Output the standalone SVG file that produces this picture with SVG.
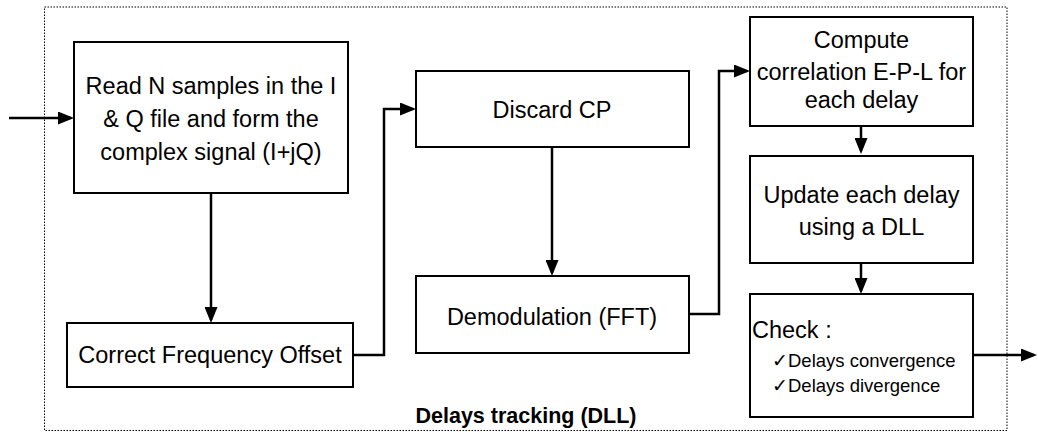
<svg xmlns="http://www.w3.org/2000/svg" width="1038" height="432" viewBox="0 0 1038 432">
<style>
.box{fill:#fff;stroke:#000;stroke-width:2}
.t{font-family:"Liberation Sans",Arial,sans-serif;font-size:23.5px;fill:#000;text-anchor:middle}
.s{font-family:"Liberation Sans",Arial,sans-serif;font-size:18.5px;fill:#000}
.b{font-family:"Liberation Sans",Arial,sans-serif;font-size:21.5px;font-weight:bold;fill:#000;text-anchor:middle}
.c{fill:none;stroke:#000;stroke-width:2.5;marker-end:url(#ah)}
</style>
<defs>
<marker id="ah" viewBox="0 0 16 13" refX="13" refY="6.5" markerWidth="16" markerHeight="13" markerUnits="userSpaceOnUse" orient="auto">
<path d="M0,0 L16,6.5 L0,13 z" fill="#000"/>
</marker>
</defs>
<rect width="1038" height="432" fill="#fff"/>
<g id="frame">
<rect x="44.5" y="7" width="962.5" height="423.5" fill="none" stroke="#000" stroke-width="1" stroke-dasharray="1.5,1.5"/>
<text class="b" x="526" y="423">Delays tracking (DLL)</text>
</g>
<g id="connectors">
<path class="c" d="M9,118 H71"/>
<path class="c" d="M211,193 V320"/>
<path class="c" d="M353,355 H384 V109 H413"/>
<path class="c" d="M552,147 V273"/>
<path class="c" d="M689,314 H719 V71 H747"/>
<path class="c" d="M861,126 V151"/>
<path class="c" d="M861,263 V291"/>
<path class="c" d="M973,355 H1034"/>
</g>
<g id="read">
<rect class="box" x="74" y="42" width="274" height="151"/>
<text class="t" x="211" y="94">Read N samples in the I</text>
<text class="t" x="211" y="127">&amp; Q file and form the</text>
<text class="t" x="211" y="160">complex signal (I+jQ)</text>
</g>
<g id="cfo">
<rect class="box" x="67" y="323" width="286" height="64"/>
<text class="t" x="210" y="363">Correct Frequency Offset</text>
</g>
<g id="discard">
<rect class="box" x="416" y="71" width="273" height="76"/>
<text class="t" x="552" y="118">Discard CP</text>
</g>
<g id="demod">
<rect class="box" x="416" y="276" width="273" height="77"/>
<text class="t" x="552" y="325">Demodulation (FFT)</text>
</g>
<g id="compute">
<rect class="box" x="750" y="17" width="223" height="109"/>
<text class="t" x="861.5" y="48">Compute</text>
<text class="t" x="861.5" y="80">correlation E-P-L for</text>
<text class="t" x="861.5" y="108">each delay</text>
</g>
<g id="update">
<rect class="box" x="750" y="156" width="223" height="107"/>
<text class="t" x="861.5" y="203">Update each delay</text>
<text class="t" x="861.5" y="235">using a DLL</text>
</g>
<g id="check">
<rect class="box" x="750" y="294" width="223" height="123"/>
<text class="t" x="752" y="338" style="text-anchor:start">Check :</text>
<text class="s" x="772" y="367">✓Delays convergence</text>
<text class="s" x="772" y="392">✓Delays divergence</text>
</g>
</svg>
